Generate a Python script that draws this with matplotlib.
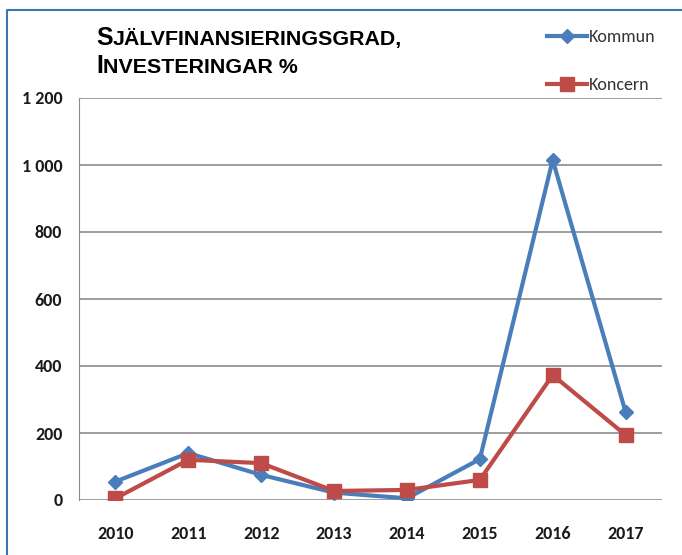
import matplotlib
matplotlib.use("Agg")
import matplotlib.pyplot as plt
from matplotlib.lines import Line2D

# data
years = ["2010", "2011", "2012", "2013", "2014", "2015", "2016", "2017"]
kommun = [55, 140, 75, 22, 5, 122, 1015, 263]
koncern = [5, 120, 110, 27, 30, 60, 373, 194]
yticks = [0, 200, 400, 600, 800, 1000, 1200]
ytick_labels = ["0", "200", "400", "600", "800", "1 000", "1 200"]

BLUE = "#4a7ebb"
RED = "#be4b48"
GRID = "#8c8c8c"

# Calibri-like font if there is one, else Liberation
calib = ["Carlito", "Liberation Sans", "DejaVu Sans"]
arial = ["Liberation Sans", "DejaVu Sans"]

fig = plt.figure(figsize=(6.82, 5.55), dpi=100)
ax = fig.add_axes([79 / 682, 55 / 555, (662 - 79) / 682, (500 - 98) / 555])

x = range(len(years))
ax.plot(x, kommun, color=BLUE, lw=3, marker="D", ms=7.5, label="Kommun")
ax.plot(x, koncern, color=RED, lw=3, marker="s", ms=9.5, label="Koncern")

ax.set_xlim(-0.5, len(years) - 0.5)
ax.set_ylim(0, 1200)
ax.set_yticks(yticks)
ax.set_yticklabels(ytick_labels)
ax.set_xticks(list(x))
ax.set_xticklabels(years)
ax.grid(axis="y", color=GRID, lw=1.2)
ax.set_axisbelow(True)
for s in ["top", "right", "bottom"]:
    ax.spines[s].set_visible(False)
ax.spines["left"].set_color(GRID)
ax.tick_params(length=0)
ax.tick_params(axis="y", pad=12)
ax.tick_params(axis="x", pad=19)
for lab in ax.get_xticklabels() + ax.get_yticklabels():
    lab.set_fontfamily(calib)
    lab.set_fontweight("bold")
    lab.set_fontsize(13)
    lab.set_color("#1a1a1a")

# outer frame (left and top only visible)
fig.add_artist(Line2D([7 / 682, 7 / 682, 1.0], [0.0, 1 - 10 / 555, 1 - 10 / 555],
                      transform=fig.transFigure, color="#3f74ad", lw=1.5))

# title with small caps look
fig.canvas.draw()
renderer = fig.canvas.get_renderer()
y1 = 1 - 45 / 555
y2 = 1 - 73 / 555
for big, small, yy in [("S", "JÄLVFINANSIERINGSGRAD,", y1), ("I", "NVESTERINGAR %", y2)]:
    t = fig.text(96 / 682, yy, big, fontsize=18, va="baseline",
                 family=arial, weight="bold", color="black")
    bb = t.get_window_extent(renderer)
    fig.text(bb.x1 / fig.bbox.width + 0.5 / 682, yy, small, fontsize=15.4, va="baseline",
             family=arial, weight="bold", color="black")

leg = fig.legend(loc="upper left", bbox_to_anchor=(531 / 682, 1 - 13 / 555), frameon=False,
                 handlelength=2.2, handletextpad=0.1, labelspacing=1.75,
                 prop=dict(family=calib, size=13))
for t in leg.get_texts():
    t.set_color("#333333")

fig.savefig("out.png", dpi=100)
